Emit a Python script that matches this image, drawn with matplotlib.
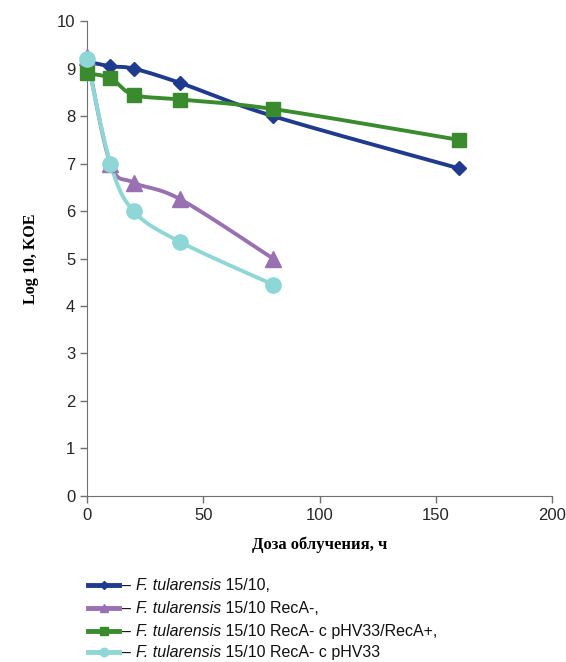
import matplotlib.pyplot as plt
import numpy as np
from matplotlib.lines import Line2D

plt.rcParams['font.family'] = 'Liberation Sans'

# data
dose_long = [0, 10, 20, 40, 80, 160]
dose_short = [0, 10, 20, 40, 80]
wild = [9.15, 9.05, 9.0, 8.7, 8.0, 6.9]
reca_minus = [9.25, 7.0, 6.6, 6.25, 5.0]
reca_plus = [8.9, 8.8, 8.45, 8.35, 8.15, 7.5]
reca_vector = [9.2, 7.0, 6.0, 5.35, 4.45]

species = "F. tularensis"
label_tails = [" 15/10,",
               " 15/10 RecA-,",
               " 15/10 RecA- с pHV33/RecA+,",
               " 15/10 RecA- с pHV33"]

series = [
    (dose_long, wild, '#1f3a8f', 'D', 7),
    (dose_short, reca_minus, '#9970b2', '^', 11),
    (dose_long, reca_plus, '#3a8a2e', 's', 10),
    (dose_short, reca_vector, '#8fd6d6', 'o', 11),
]


def smooth(ax, xs, ys, n=30):
    # Excel-style smoothed line, computed in screen space
    pts = ax.transData.transform(np.column_stack([xs, ys]))
    out = [pts[0]]
    for i in range(len(pts) - 1):
        p0 = pts[i - 1] if i > 0 else pts[i]
        p1 = pts[i]
        p2 = pts[i + 1]
        p3 = pts[i + 2] if i + 2 < len(pts) else pts[i + 1]
        c1 = p1 + (p2 - p0) / 6
        c2 = p2 - (p3 - p1) / 6
        t = np.linspace(0, 1, n)[1:, None]
        seg = ((1 - t) ** 3) * p1 + 3 * ((1 - t) ** 2) * t * c1 + 3 * (1 - t) * t ** 2 * c2 + t ** 3 * p2
        out.extend(seg)
    out = ax.transData.inverted().transform(np.array(out))
    return out[:, 0], out[:, 1]


fig = plt.figure(figsize=(5.66, 6.62), dpi=100)
ax = fig.add_axes([0.154, 0.251, 0.821, 0.717])
ax.set_xlim(0, 200)
ax.set_ylim(0, 10)

for xs, ys, c, m, ms in series:
    sx, sy = smooth(ax, xs, ys)
    ax.plot(sx, sy, color=c, lw=2.8, solid_capstyle='round', zorder=2)
    ax.plot(xs, ys, ls='none', marker=m, color=c, ms=ms, zorder=3, clip_on=False)

ax.set_xticks([0, 50, 100, 150, 200])
ax.set_yticks(range(0, 11))
ax.tick_params(labelsize=12, length=5, width=1, color='#707070', labelcolor='#262626')
for s in ['top', 'right']:
    ax.spines[s].set_visible(False)
for s in ['left', 'bottom']:
    ax.spines[s].set_color('#707070')

ax.set_xlabel('Доза облучения, ч', family='Liberation Serif', fontweight='bold',
              fontsize=12, labelpad=10)
ax.set_ylabel('Log 10, KOE', family='Liberation Serif', fontweight='bold',
              fontsize=11.5, labelpad=13)

# legend drawn by hand at the bottom
W, H = 566, 662
rows = [585, 608, 631, 652]
fig.canvas.draw()
renderer = fig.canvas.get_renderer()
for (xs, ys, c, m, ms), tail, yp in zip(series, label_tails, rows):
    yf = 1 - yp / H
    fig.add_artist(Line2D([88 / W, 119 / W], [yf, yf], color=c, lw=3.5,
                          transform=fig.transFigure))
    fig.add_artist(Line2D([103.5 / W], [yf], marker=m, color=c, ms=ms * 0.55,
                          transform=fig.transFigure))
    x = 122
    yb = 1 - (yp + 5) / H
    for piece, style in [("– ", 'normal'), (species, 'italic'), (tail, 'normal')]:
        t = fig.text(x / W, yb, piece, fontsize=11.5, style=style, va='baseline',
                     ha='left', color='#111111')
        x += t.get_window_extent(renderer).width

fig.savefig('out.png', dpi=100)
